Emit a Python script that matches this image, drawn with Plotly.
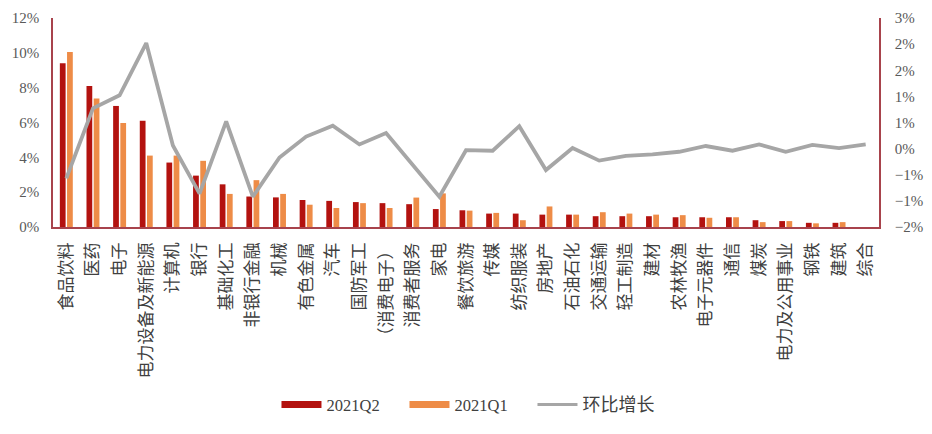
import plotly.graph_objects as go

# Industry categories (申万-style sectors)
categories = [
    "食品饮料", "医药", "电子", "电力设备及新能源", "计算机", "银行", "基础化工",
    "非银行金融", "机械", "有色金属", "汽车", "国防军工", "（消费电子）", "消费者服务",
    "家电", "餐饮旅游", "传媒", "纺织服装", "房地产", "石油石化", "交通运输",
    "轻工制造", "建材", "农林牧渔", "电子元器件", "通信", "煤炭", "电力及公用事业",
    "钢铁", "建筑", "综合",
]

# Share of holdings, % (left axis)
q2_2021 = [9.4, 8.1, 6.95, 6.1, 3.7, 2.95, 2.45, 1.75, 1.7, 1.55, 1.5, 1.43, 1.37,
           1.31, 1.03, 0.96, 0.77, 0.77, 0.71, 0.71, 0.62, 0.62, 0.62, 0.56, 0.56,
           0.56, 0.39, 0.34, 0.24, 0.24, 0.0]
q1_2021 = [10.05, 7.38, 5.97, 4.1, 4.1, 3.8, 1.9, 2.69, 1.9, 1.28, 1.09, 1.37, 1.09,
           1.69, 1.93, 0.94, 0.81, 0.39, 1.18, 0.71, 0.85, 0.77, 0.71, 0.68, 0.53,
           0.56, 0.28, 0.34, 0.21, 0.28, 0.0]

# Quarter-on-quarter change, percentage points (right axis)
qoq_change = [-0.57, 0.77, 1.02, 2.02, 0.06, -0.86, 0.52, -0.92, -0.17, 0.23, 0.44,
              0.08, 0.30, -0.32, -0.92, -0.03, -0.04, 0.43, -0.41, 0.01, -0.23,
              -0.14, -0.11, -0.06, 0.05, -0.04, 0.08, -0.06, 0.07, 0.01, 0.08]

left_ticks = [0, 2, 4, 6, 8, 10, 12]
left_tick_labels = ["0%", "2%", "4%", "6%", "8%", "10%", "12%"]
right_ticks = [-1.5, -1.0, -0.5, 0.0, 0.5, 1.0, 1.5, 2.0, 2.5]
right_tick_labels = ["−2%", "−1%", "−1%", "0%", "1%", "1%", "2%", "2%", "3%"]

C_Q2 = "#B3120F"
C_Q1 = "#EE8C47"
C_LINE = "#A6A6A6"
C_AXIS = "#A8434C"
SERIF = "Liberation Serif, Noto Sans CJK SC, serif"
CJK = "Noto Sans CJK SC, sans-serif"

fig = go.Figure()

fig.add_trace(go.Bar(x=categories, y=q2_2021, name="2021Q2", marker_color=C_Q2,
                     marker_line_width=0, showlegend=False))
fig.add_trace(go.Bar(x=categories, y=q1_2021, name="2021Q1", marker_color=C_Q1,
                     marker_line_width=0, showlegend=False))
fig.add_trace(go.Scatter(x=categories, y=qoq_change, name="环比增长", mode="lines",
                         line=dict(color=C_LINE, width=3.8), yaxis="y2",
                         showlegend=False))

# Legend entries drawn as wide swatches
legend_entries = [
    ("2021Q2", C_Q2, 7),
    ("2021Q1", C_Q1, 7),
    ("<span style='font-size:18px'>环比增长</span>", C_LINE, 3),
]
for name, color, width in legend_entries:
    fig.add_trace(go.Scatter(x=[None], y=[None], mode="lines", name=name,
                             line=dict(color=color, width=width)))

fig.update_layout(
    width=932, height=434,
    margin=dict(l=53, r=53, t=18, b=203),
    paper_bgcolor="white", plot_bgcolor="white",
    barmode="group", bargap=0.46, bargroupgap=0.2,
    showlegend=True,
    legend=dict(orientation="h", x=0.503, xanchor="center", y=-0.85, yanchor="middle",
                font=dict(family=SERIF, size=16.5, color="#404040"),
                itemwidth=40, entrywidth=73, tracegroupgap=0,
                bgcolor="rgba(0,0,0,0)"),
    xaxis=dict(type="category", showline=True, linecolor=C_AXIS, linewidth=1.5,
               ticks="", tickangle=-90, showgrid=False, automargin=False,
               tickfont=dict(family=CJK, size=17, color="#404040"),
               ticklabelstandoff=7),
    yaxis=dict(range=[0, 12], tickvals=left_ticks, ticktext=left_tick_labels,
               showgrid=False, zeroline=False, showline=True, linecolor=C_AXIS,
               linewidth=1.5, ticks="", automargin=False, ticklabelstandoff=9,
               tickfont=dict(family=SERIF, size=15, color="#595959")),
    yaxis2=dict(range=[-1.5, 2.5], tickvals=right_ticks, ticktext=right_tick_labels,
                overlaying="y", side="right", showgrid=False, zeroline=False,
                showline=True, linecolor=C_AXIS, linewidth=1.5, ticks="",
                automargin=False, ticklabelstandoff=11,
                tickfont=dict(family=SERIF, size=15, color="#595959")),
)

fig.write_html("out.html")
